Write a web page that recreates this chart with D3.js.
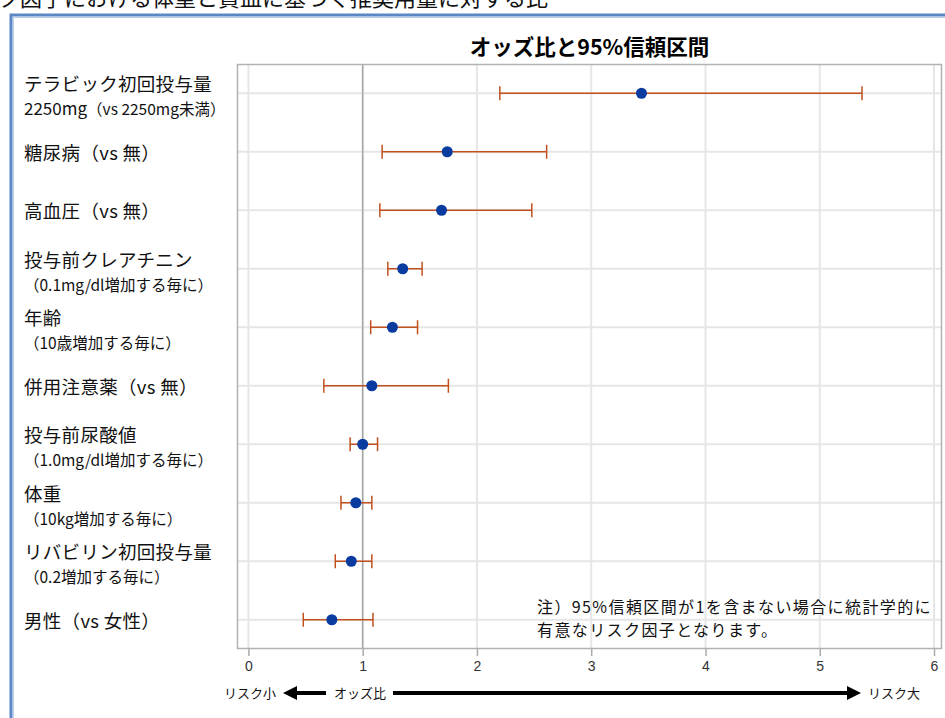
<!DOCTYPE html>
<html>
<head>
<meta charset="utf-8">
<script src="https://cdn.jsdelivr.net/npm/d3@7"></script>
<style>
  body { margin: 0; background: #fff; }
  svg { display: block; font-family: "Noto Sans CJK JP", "Noto Sans", sans-serif; }
</style>
</head>
<body>
<script>
// categories (top to bottom)
var labels = ["テラビック初回投与量", "糖尿病（vs 無）", "高血圧（vs 無）", "投与前クレアチニン", "年齢",
              "併用注意薬（vs 無）", "投与前尿酸値", "体重", "リバビリン初回投与量", "男性（vs 女性）"];
var subLead = ["2250mg", "", "", "", "", "", "", "", "", ""];
var subLabels = ["（vs 2250mg未満）", "", "", "（0.1mg/dl増加する毎に）", "（10歳増加する毎に）",
                 "", "（1.0mg/dl増加する毎に）", "（10kg増加する毎に）", "（0.2増加する毎に）", ""];

// odds ratio and 95% CI
var oddsRatio = [3.44, 1.74, 1.69, 1.35, 1.26, 1.08, 1.00, 0.94, 0.90, 0.73];
var ciLower   = [2.20, 1.17, 1.15, 1.22, 1.07, 0.66, 0.89, 0.81, 0.76, 0.48];
var ciUpper   = [5.37, 2.61, 2.48, 1.52, 1.48, 1.75, 1.13, 1.08, 1.08, 1.09];

var xTicks = [0, 1, 2, 3, 4, 5, 6];

var data = labels.map(function(d, i) {
  return {label: d, lead: subLead[i], sub: subLabels[i], or: oddsRatio[i], lo: ciLower[i], hi: ciUpper[i]};
});

var W = 945, H = 718;
var plot = {left: 237, right: 942, top: 64, bottom: 649};

var svg = d3.select("body").append("svg")
    .attr("width", W)
    .attr("height", H);

// page heading, cut off at the top edge like the source screenshot
svg.append("text")
    .attr("x", -46)
    .attr("y", 6)
    .style("font-size", "22px")
    .style("fill", "#111")
    .text("リスク因子における体重と貧血に基づく推奨用量に対する比");

// outer frame (top + left)
svg.append("path")
    .attr("d", "M11,718V15H945")
    .attr("fill", "none")
    .attr("stroke", "#5b87c5")
    .attr("stroke-width", 3);
svg.append("path")
    .attr("d", "M13.5,718V17.5H945")
    .attr("fill", "none")
    .attr("stroke", "#b9cde8")
    .attr("stroke-width", 1);

var xScale = d3.scaleLinear().domain([-0.1, 6.07]).range([plot.left, plot.right]);
var yScale = d3.scalePoint().domain(labels).range([plot.top, plot.bottom]).padding(0.5);

// title
svg.append("text")
    .attr("x", (plot.left + plot.right) / 2)
    .attr("y", 55)
    .attr("text-anchor", "middle")
    .style("font-size", "21.5px")
    .style("font-weight", "bold")
    .text("オッズ比と95%信頼区間");

// grid
var g = svg.append("g");
g.selectAll(".vgrid")
  .data(xTicks)
  .enter().append("line")
    .attr("class", "vgrid")
    .attr("x1", function(d) { return xScale(d); })
    .attr("x2", function(d) { return xScale(d); })
    .attr("y1", plot.top)
    .attr("y2", plot.bottom)
    .attr("stroke", "#e6e6e6")
    .attr("stroke-width", 2);
g.selectAll(".hgrid")
  .data(labels)
  .enter().append("line")
    .attr("class", "hgrid")
    .attr("x1", plot.left)
    .attr("x2", plot.right)
    .attr("y1", function(d) { return yScale(d); })
    .attr("y2", function(d) { return yScale(d); })
    .attr("stroke", "#e6e6e6")
    .attr("stroke-width", 2);

// reference line at OR = 1
g.append("line")
    .attr("x1", xScale(1)).attr("x2", xScale(1))
    .attr("y1", plot.top).attr("y2", plot.bottom)
    .attr("stroke", "#a6a6a6")
    .attr("stroke-width", 1.5);

// plot frame
g.append("rect")
    .attr("x", plot.left + 0.5)
    .attr("y", plot.top + 0.5)
    .attr("width", plot.right - plot.left - 1)
    .attr("height", plot.bottom - plot.top - 1)
    .attr("fill", "none")
    .attr("stroke", "#b0b2b5")
    .attr("stroke-width", 1.5);

// note
var note = svg.append("text")
    .attr("x", 537)
    .style("font-size", "16px")
    .style("letter-spacing", "1.4px")
    .style("fill", "#111");
note.append("tspan").attr("x", 537).attr("y", 613).text("注）95%信頼区間が1を含まない場合に統計学的に");
note.append("tspan").attr("x", 537).attr("y", 636).text("有意なリスク因子となります。");

// error bars
var bars = g.selectAll(".ci")
  .data(data)
  .enter().append("g")
    .attr("class", "ci")
    .attr("stroke", "#c1501e")
    .attr("stroke-width", 1.5);
bars.append("line")
    .attr("x1", function(d) { return xScale(d.lo); })
    .attr("x2", function(d) { return xScale(d.hi); })
    .attr("y1", function(d) { return yScale(d.label); })
    .attr("y2", function(d) { return yScale(d.label); });
bars.append("line")
    .attr("x1", function(d) { return xScale(d.lo); })
    .attr("x2", function(d) { return xScale(d.lo); })
    .attr("y1", function(d) { return yScale(d.label) - 7; })
    .attr("y2", function(d) { return yScale(d.label) + 7; });
bars.append("line")
    .attr("x1", function(d) { return xScale(d.hi); })
    .attr("x2", function(d) { return xScale(d.hi); })
    .attr("y1", function(d) { return yScale(d.label) - 7; })
    .attr("y2", function(d) { return yScale(d.label) + 7; });

// points
g.selectAll(".dot")
  .data(data)
  .enter().append("circle")
    .attr("class", "dot")
    .attr("r", 5.5)
    .attr("cx", function(d) { return xScale(d.or); })
    .attr("cy", function(d) { return yScale(d.label); })
    .style("fill", "#0a3ca0");

// x axis
var xAxis = d3.axisBottom(xScale).tickValues(xTicks).tickFormat(d3.format("d"))
    .tickSize(7).tickSizeOuter(0).tickPadding(5);
var ax = svg.append("g")
    .attr("transform", "translate(0," + plot.bottom + ")")
    .call(xAxis);
ax.select(".domain").remove();
ax.selectAll(".tick line").attr("stroke", "#a9abae").attr("stroke-width", 1.5);
ax.selectAll(".tick text")
    .style("font-family", "'Liberation Sans Narrow', 'Liberation Sans', sans-serif")
    .style("font-size", "14px")
    .style("fill", "#333");

// category labels
var lab = svg.selectAll(".cat")
  .data(data)
  .enter().append("g")
    .attr("class", "cat")
    .attr("transform", function(d) { return "translate(24," + yScale(d.label) + ")"; });
lab.append("text")
    .attr("y", function(d) { return d.sub ? -2 : 8; })
    .style("font-size", "18.5px")
    .style("letter-spacing", "0.3px")
    .style("fill", "#111")
    .text(function(d) { return d.label; });
var subs = lab.filter(function(d) { return d.sub; })
  .append("text")
    .attr("y", 22)
    .style("fill", "#111");
subs.append("tspan")
    .style("font-size", "17px")
    .text(function(d) { return d.lead; });
subs.append("tspan")
    .style("font-size", "15.5px")
    .text(function(d) { return d.sub; });

// risk direction arrows under the axis
var ay = 693;
var arrows = svg.append("g").attr("fill", "#000").attr("stroke", "#000");
arrows.append("line").attr("x1", 292).attr("x2", 326).attr("y1", ay).attr("y2", ay).attr("stroke-width", 4);
arrows.append("path").attr("d", "M283," + ay + "L297," + (ay - 7) + "L297," + (ay + 7) + "Z").attr("stroke", "none");
arrows.append("line").attr("x1", 393).attr("x2", 850).attr("y1", ay).attr("y2", ay).attr("stroke-width", 4);
arrows.append("path").attr("d", "M861," + ay + "L847," + (ay - 7) + "L847," + (ay + 7) + "Z").attr("stroke", "none");

var arrowText = svg.append("g").style("font-size", "13px").style("fill", "#111");
arrowText.append("text").attr("x", 276).attr("y", ay + 5).attr("text-anchor", "end").text("リスク小");
arrowText.append("text").attr("x", 334).attr("y", ay + 5).text("オッズ比");
arrowText.append("text").attr("x", 868).attr("y", ay + 5).text("リスク大");
</script>
</body>
</html>
